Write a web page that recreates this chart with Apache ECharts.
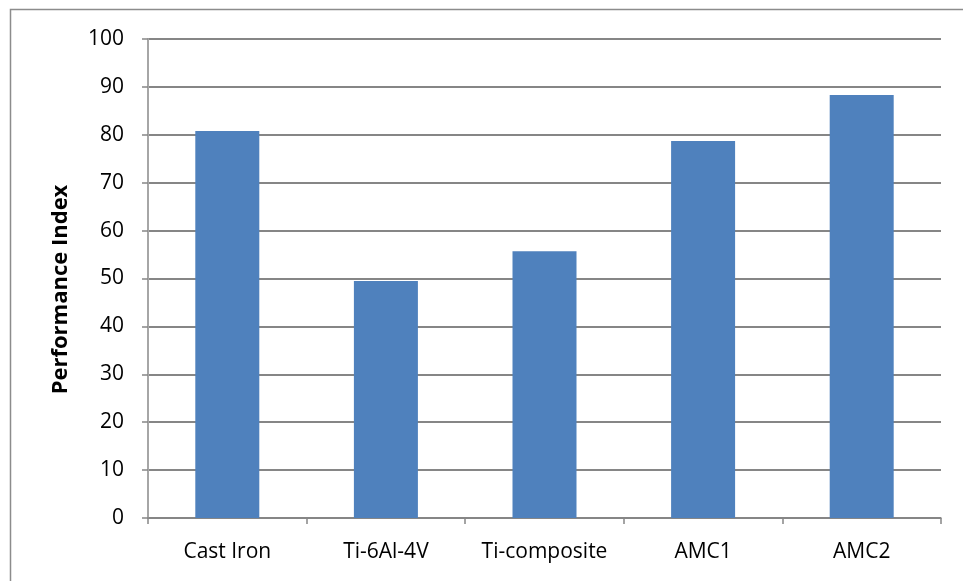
<!DOCTYPE html>
<html><head><meta charset="utf-8">
<script src="https://cdn.jsdelivr.net/npm/echarts@6/dist/echarts.min.js"></script>
<style>html,body{margin:0;padding:0;background:#fff}#c{width:963px;height:581px}</style>
</head><body><div id="c"></div>
<script>
const categories = ['Cast Iron', 'Ti-6Al-4V', 'Ti-composite', 'AMC1', 'AMC2'];
const values = [80.8, 49.5, 55.7, 78.7, 88.3];
const yTicks = [0, 10, 20, 30, 40, 50, 60, 70, 80, 90, 100];
const yTitle = 'Performance Index';

const font = '"Open Sans", sans-serif';
const chart = echarts.init(document.getElementById('c'), null, {renderer: 'canvas'});
chart.setOption({
  animation: false,
  backgroundColor: '#fff',
  graphic: [{type: 'rect', shape: {x: 10.5, y: 9.5, width: 1000, height: 1000}, style: {fill: 'none', stroke: '#8c8c8c', lineWidth: 1.5}, z: -1}],
  grid: {left: 148, right: 22, top: 39, bottom: 63},
  xAxis: {
    type: 'category', data: categories,
    axisLine: {lineStyle: {color: '#868686', width: 1.5}},
    axisTick: {show: true, interval: 0, length: 6, alignWithLabel: false, lineStyle: {color: '#868686', width: 1.5}},
    axisLabel: {color: '#000', fontSize: 21, fontFamily: font, margin: 24, interval: 0, hideOverlap: false}
  },
  yAxis: {
    type: 'value', min: yTicks[0], max: yTicks[yTicks.length - 1], interval: 10,
    name: yTitle, nameLocation: 'middle', nameGap: 76,
    nameTextStyle: {color: '#000', fontSize: 22, fontWeight: 'bold', fontFamily: font, padding: [0, 22, 0, 0]},
    axisLine: {show: true, lineStyle: {color: '#a6a6a6', width: 2}},
    axisTick: {show: true, length: 6, lineStyle: {color: '#868686', width: 1.5}},
    splitLine: {lineStyle: {color: '#868686', width: 2}},
    axisLabel: {color: '#000', fontSize: 21, fontFamily: font, margin: 24}
  },
  series: [{
    type: 'bar', data: values, barWidth: 64,
    itemStyle: {color: '#4F81BD'}
  }]
});
</script></body></html>
